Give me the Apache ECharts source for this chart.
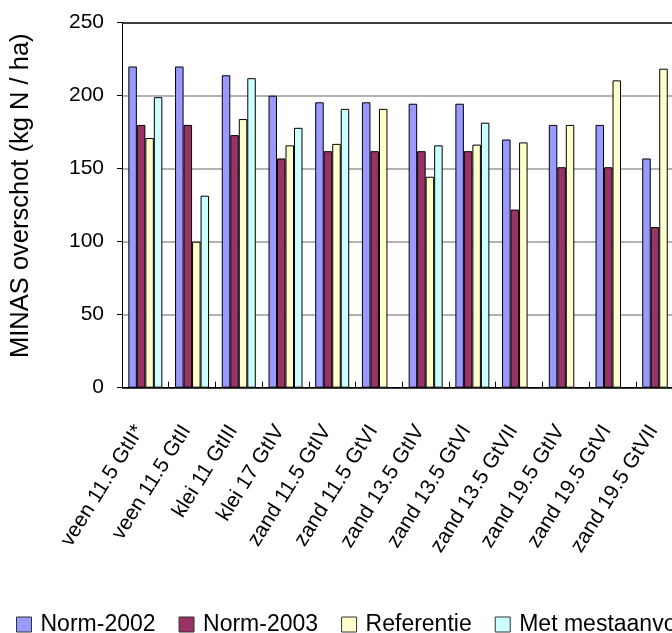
<!DOCTYPE html>
<html>
<head>
<meta charset="utf-8">
<script src="https://cdn.jsdelivr.net/npm/echarts@6/dist/echarts.min.js"></script>
<style>
html,body{margin:0;padding:0;overflow:hidden;background:#fff;}
#chart{width:900px;height:633px;}
</style>
</head>
<body>
<div id="chart"></div>
<script>
const categories = ['veen 11.5 GtII*','veen 11.5 GtII','klei 11 GtIII','klei 17 GtIV','zand 11.5 GtIV','zand 11.5 GtVI','zand 13.5 GtIV','zand 13.5 GtVI','zand 13.5 GtVII','zand 19.5 GtIV','zand 19.5 GtVI','zand 19.5 GtVII'];
const norm2002 = [220,220,214,200,195.5,195.5,194.5,194.5,170,180,180,157];
const norm2003 = [180,180,173,157,162,162,162,162,122,151,151,110];
const referentie = [171,100,184,166,167,191,144.5,166.5,168,180,210.5,218.5];
const metMest = [199,131.5,212,178,191,null,166,181.5,null,null,null,null];
const seriesNames = ['Norm-2002','Norm-2003','Referentie','Met mestaanvoer'];
const yTicks = [0,50,100,150,200,250];

const FONT = "'Liberation Sans', Arial, sans-serif";
const colors = ['#9999FF','#993366','#FFFFCC','#CCFFFF'];
const values = [norm2002, norm2003, referentie, metMest];

const chart = echarts.init(document.getElementById('chart'), null, {renderer:'canvas'});
chart.setOption({
  animation:false,
  backgroundColor:'#fff',
  textStyle:{fontFamily:FONT,color:'#000'},
  legend:{
    left:11, top:608,
    itemWidth:15, itemHeight:15, itemGap:23,
    icon:'rect',
    data:seriesNames,
    itemStyle:{borderColor:'#333',borderWidth:1},
    textStyle:{fontSize:23,fontFamily:FONT,color:'#000',padding:[0,0,0,4]}
  },
  grid:{left:121, top:22.7, width:561.6, height:365},
  xAxis:{
    type:'category',
    data:categories,
    axisLine:{lineStyle:{color:'#000',width:1}},
    axisTick:{show:true,inside:true,length:6,lineStyle:{color:'#000'}},
    axisLabel:{interval:0,rotate:58,margin:30,fontSize:21,fontFamily:FONT,color:'#000',padding:[0,11,0,0]}
  },
  yAxis:{
    type:'value',
    min:yTicks[0], max:yTicks[yTicks.length-1], interval:50,
    name:'MINAS overschot (kg N / ha)',
    nameLocation:'middle',
    nameGap:88,
    nameRotate:90,
    nameTextStyle:{fontSize:25.5,fontFamily:FONT,color:'#000',padding:[0,0,0,19]},
    axisLine:{show:true,lineStyle:{color:'#000',width:1}},
    axisTick:{show:true,length:5,lineStyle:{color:'#000'}},
    axisLabel:{margin:18,fontSize:21,fontFamily:FONT,color:'#000'},
    splitLine:{show:true,lineStyle:{color:['#000','#999','#999','#999','#999','#000'],width:1.5}}
  },
  series: seriesNames.map((n,i)=>({
    name:n,
    type:'bar',
    data:values[i],
    barWidth:8.5,
    barGap:'0%',
    itemStyle:{color:colors[i],borderColor:'#000',borderWidth:1}
  }))
});
</script>
</body>
</html>
